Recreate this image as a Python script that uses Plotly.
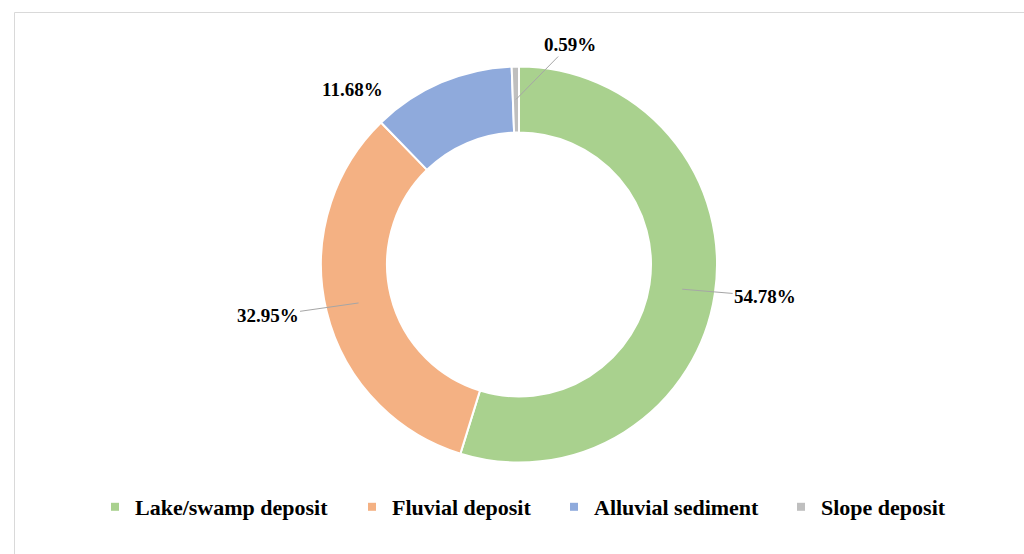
import math
import plotly.graph_objects as go

# Sedimentary facies share
categories = ["Lake/swamp deposit", "Fluvial deposit", "Alluvial sediment", "Slope deposit"]
shares = [54.78, 32.95, 11.68, 0.59]
colors = ["#A9D18E", "#F4B183", "#8FAADC", "#BFBFBF"]

W, H = 1024, 554
CX, CY, R_OUT, R_IN = 519, 264.5, 198, 132

fig = go.Figure(
    go.Pie(
        labels=categories,
        values=shares,
        sort=False,
        direction="clockwise",
        rotation=0,
        hole=R_IN / R_OUT,
        marker=dict(colors=colors, line=dict(color="white", width=2)),
        textinfo="none",
        hoverinfo="label+percent",
        showlegend=False,
        domain=dict(x=[(CX - R_OUT) / W, (CX + R_OUT) / W],
                    y=[1 - (CY + R_OUT) / H, 1 - (CY - R_OUT) / H]),
    )
)

# Legend entries: one small square key per category, each in its own legend box
legend_text_x = [131, 388, 590, 817]
legend_font = dict(family="Liberation Serif", size=22, color="black", weight="bold")
legend_layout = {}
for i, (name, col, tx) in enumerate(zip(categories, colors, legend_text_x)):
    key = "legend" if i == 0 else f"legend{i + 1}"
    fig.add_trace(go.Scatter(
        x=[None], y=[None], mode="markers", name=name,
        marker=dict(symbol="square", size=8, color=col),
        legend=key, hoverinfo="skip",
    ))
    legend_layout[key] = dict(
        x=(tx - 36) / W, xanchor="left", y=1 - 507 / H, yanchor="middle",
        font=legend_font, bgcolor="rgba(0,0,0,0)",
        itemclick=False, itemdoubleclick=False,
    )

# Outside value labels with leader lines (pixel offsets of the text from the ring)
label_offsets = [(83, 7, True), (-91, 13, True), (-102, -23, False), (54, -55, True)]
total = sum(shares)
r_mid = (R_OUT + R_IN) / 2
cum = 0.0
annotations = []
for val, (ax, ay, arrow) in zip(shares, label_offsets):
    theta = 2 * math.pi * (cum + val / 2) / total
    cum += val
    px = CX + r_mid * math.sin(theta)
    py = CY - r_mid * math.cos(theta)
    annotations.append(dict(
        x=px / W, y=1 - py / H, xref="paper", yref="paper",
        text=f"<b>{val:.2f}%</b>",
        showarrow=True, ax=ax, ay=ay,
        arrowhead=0, arrowwidth=1, arrowcolor=("#A6A6A6" if arrow else "rgba(0,0,0,0)"),
        standoff=0, startstandoff=0,
        font=dict(family="Liberation Serif", size=19, color="black"),
    ))

fig.update_layout(
    width=W, height=H,
    margin=dict(l=0, r=0, t=0, b=0),
    paper_bgcolor="white",
    plot_bgcolor="white",
    font=dict(family="Liberation Serif", color="black"),
    annotations=annotations,
    showlegend=True,
    xaxis=dict(visible=False),
    yaxis=dict(visible=False),
    shapes=[dict(type="rect", xref="paper", yref="paper",
                 x0=14.5 / W, x1=1.05, y0=-0.05, y1=1 - 12.5 / H,
                 line=dict(color="#D9D9D9", width=1), fillcolor="rgba(0,0,0,0)")],
    **legend_layout,
)

fig.write_html("out.html")
